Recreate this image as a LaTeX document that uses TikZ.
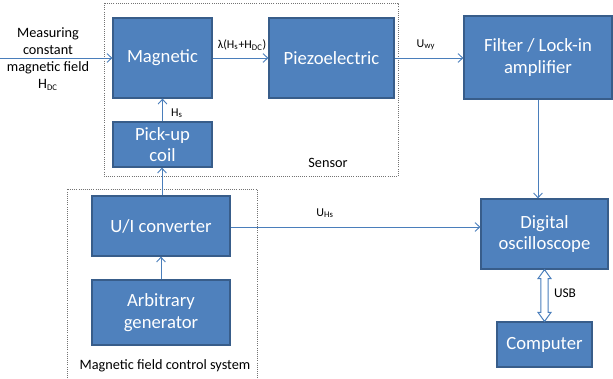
\documentclass[tikz,border=0pt]{standalone}
\usepackage{fontspec}
\setmainfont{Carlito}
\usetikzlibrary{arrows.meta,calc}
\definecolor{boxfill}{RGB}{79,129,189}
\definecolor{boxline}{RGB}{56,93,138}
\definecolor{wire}{RGB}{74,126,187}
\tikzset{
  block/.style={draw=boxline, line width=0.9pt, fill=boxfill, text=white,
    align=center, inner sep=0pt, font=\fontsize{14}{16.2}\selectfont},
  wirearrow/.style={draw=wire, line width=0.7pt,
    -{Straight Barb[length=3.5pt,width=6.5pt]}},
  lbl/.style={inner sep=0pt, align=center, font=\fontsize{10.7}{12.8}\selectfont},
  sublbl/.style={inner sep=0pt, font=\fontsize{9}{11}\selectfont},
  groupbox/.style={draw=black!55, densely dotted, line width=0.6pt},
}
\newcommand{\sub}[1]{\textsubscript{\fontsize{6.5}{7}\selectfont #1}}
\begin{document}
\begin{tikzpicture}[x=0.75pt, y=-0.75pt]
  \useasboundingbox (0,0) rectangle (613,378);

  % grouping frames
  \draw[groupbox] (104,3) rectangle (398,176);
  \draw[groupbox] (67,378) -- (67,189) -- (257,189) -- (257,378);
  \node[lbl] (sensorlbl) at (328,163) {Sensor};
  \node[lbl] (ctrllbl) at (165,366) {Magnetic field control system};

  % blocks
  \node[block, minimum width=74.25pt, minimum height=60pt] (mag) at (162.5,58) {Magnetic};
  \node[block, minimum width=93.75pt, minimum height=60pt] (piezo) at (331.5,58) {Piezoelectric};
  \node[block, minimum width=111pt, minimum height=62.25pt] (filter) at (538,57.5) {Filter / Lock-in\\amplifier};
  \node[block, minimum width=74.25pt, minimum height=33.75pt] (pickup) at (162.5,144.5) {Pick-up\\coil};
  \node[block, minimum width=103.5pt, minimum height=45pt] (ui) at (161,226) {U/I converter};
  \node[block, minimum width=103.5pt, minimum height=48.75pt] (arb) at (161,312.5) {Arbitrary\\generator};
  \node[block, minimum width=95.25pt, minimum height=52.5pt] (osc) at (544.5,234) {Digital\\oscilloscope};
  \node[block, minimum width=71.25pt, minimum height=33.75pt] (comp) at (544.5,344.5) {Computer};

  % input field
  \coordinate (src) at (0,58);
  \node[lbl] (hdc) at (48,59) {Measuring\\constant\\magnetic field\\H\sub{DC}};
  \draw[wirearrow] (src) -- (mag.west);

  % signal path
  \draw[wirearrow] (mag.east) -- (piezo.west);
  \node[sublbl] (lam) at (242,45) {λ(H\sub{s}+H\sub{DC})};
  \draw[wirearrow] (piezo.east) -- (piezo.east -| filter.west);
  \node[sublbl] (uwy) at (426,45) {U\sub{wy}};
  \draw[wirearrow] (filter.south) -- (filter.south |- osc.north);
  \draw[wirearrow] ($(ui.east)+(0,1)$) -- ($(ui.east -| osc.west)+(0,1)$);
  \node[sublbl] (uhs) at (325,213) {U\sub{Hs}};

  % excitation path
  \draw[wirearrow] (arb.north) -- (ui.south);
  \draw[wirearrow] ($(ui.north)+(1,0)$) -- ($(ui.north |- pickup.south)+(1,0)$);
  \draw[wirearrow] (pickup.north) -- (mag.south);
  \node[sublbl] (hs) at (177,113) {H\sub{s}};

  % USB link (hollow double arrow)
  \draw[draw=wire, fill=white, line width=0.75pt, line join=miter]
    (osc.south)
    -- ++(6.5,9) -- ++(-2.8,0) -- ($(comp.north)+(3.7,-9)$) -- ++(2.8,0)
    -- (comp.north)
    -- ++(-6.5,-9) -- ++(2.8,0) -- ($(osc.south)+(-3.7,9)$) -- ++(-2.8,0)
    -- cycle;
  \node[sublbl, font=\fontsize{10}{12}\selectfont] (usb) at (565,293) {USB};
\end{tikzpicture}
\end{document}
